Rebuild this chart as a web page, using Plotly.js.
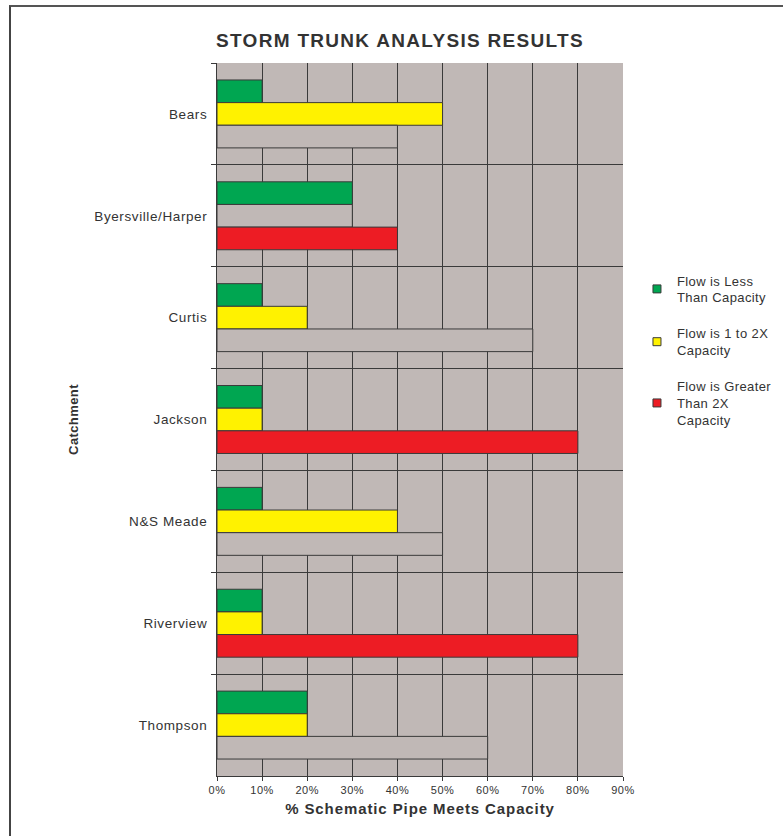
<!DOCTYPE html>
<html>
<head>
<meta charset="utf-8">
<script src="https://cdn.plot.ly/plotly-3.0.1.min.js"></script>
<style>
  html, body { margin: 0; padding: 0; background: #fff; }
  #chart { width: 783px; height: 836px; }
  #frame { position: absolute; left: 9px; top: 5px; width: 790px; height: 840px;
           border-left: 2px solid #444; border-top: 2px solid #555; pointer-events: none; }
  .gtitle { letter-spacing: 1.3px; }
  .xtitle { letter-spacing: 0.9px; }
  .ytitle { letter-spacing: 0.4px; }
  .ytick text { letter-spacing: 0.6px; }
  .xtick text { letter-spacing: 0.5px; }
  .legendtext { letter-spacing: 0.4px; }
</style>
</head>
<body>
<div id="chart"></div>
<div id="frame"></div>
<script>
const categories = ["Bears", "Byersville/Harper", "Curtis", "Jackson", "N&S Meade", "Riverview", "Thompson"];
const lessThanCapacity = [0.10, 0.30, 0.10, 0.10, 0.10, 0.10, 0.20];
const oneToTwoCapacity = [0.50, 0.30, 0.20, 0.10, 0.40, 0.10, 0.20];
const greaterThanTwo   = [0.40, 0.40, 0.70, 0.80, 0.50, 0.80, 0.60];
// points drawn without fill in the reference
const greenUnfilled  = [false, false, false, false, false, false, false];
const yellowUnfilled = [false, true, false, false, false, false, false];
const redUnfilled    = [true, false, true, false, true, false, true];
const seriesNames = ["Flow is Less<br>Than Capacity", "Flow is 1 to 2X<br>Capacity", "Flow is Greater<br>Than 2X<br>Capacity"];
const seriesColors = ["#00a651", "#fff200", "#ed1c24"];

const BG = "#c0b8b6";
const LINE = "#3a3a3a";

const values = [lessThanCapacity, oneToTwoCapacity, greaterThanTwo];
const unfilled = [greenUnfilled, yellowUnfilled, redUnfilled];

const traces = [];
values.forEach((vals, i) => {
  traces.push({
    type: "bar", orientation: "h", name: seriesNames[i], x: vals, y: categories,
    legendgroup: "g" + i, showlegend: false,
    marker: { color: unfilled[i].map(u => u ? BG : seriesColors[i]), line: { color: LINE, width: 1 } }
  });
});
// legend entries (series colour swatches)
values.forEach((vals, i) => {
  traces.push({
    type: "scatter", mode: "markers", name: seriesNames[i], x: [null], y: [null],
    legendgroup: "g" + i, showlegend: true,
    marker: { symbol: "square", size: 8, color: seriesColors[i], line: { color: LINE, width: 1 } }
  });
});

const layout = {
  width: 783, height: 836,
  margin: { l: 217, r: 0, t: 63, b: 60 },
  paper_bgcolor: "#ffffff",
  plot_bgcolor: BG,
  font: { family: "Liberation Sans, Arial, sans-serif", color: "#333", size: 11 },
  title: { text: "<b>STORM TRUNK ANALYSIS RESULTS</b>", x: 400, xref: "container", xanchor: "center",
           y: 0.952, yanchor: "middle", font: { size: 19, color: "#333" } },
  barmode: "group", bargap: 0.333, bargroupgap: 0,
  xaxis: {
    domain: [0, 406 / 566],
    range: [0, 0.9], dtick: 0.1, tick0: 0, tickformat: ".0%",
    showgrid: true, gridcolor: LINE, gridwidth: 1,
    zeroline: false, showline: true, linecolor: LINE, linewidth: 1, mirror: false,
    ticks: "outside", ticklen: 4, tickcolor: LINE,
    tickfont: { size: 11, color: "#333" },
    title: { text: "<b>% Schematic Pipe Meets Capacity</b>", font: { size: 15, color: "#333" }, standoff: 8 }
  },
  yaxis: {
    type: "category", autorange: "reversed", tickson: "boundaries",
    showgrid: true, gridcolor: LINE, gridwidth: 1,
    showline: true, linecolor: LINE, linewidth: 1,
    ticks: "outside", ticklen: 5, tickcolor: LINE, ticklabelstandoff: 6,
    tickfont: { size: 13.5, color: "#333" },
    title: { text: "<b>Catchment</b>", font: { size: 13, color: "#333" }, standoff: 12 }
  },
  legend: {
    x: 0.742, xanchor: "left", y: 0.716, yanchor: "top",
    traceorder: "grouped", tracegroupgap: 16,
    font: { size: 13, color: "#333" }, bgcolor: "rgba(0,0,0,0)"
  },
  showlegend: true
};
// title x in container pixels -> fraction
layout.title.x = 400 / 783;

Plotly.newPlot("chart", traces, layout, { displayModeBar: false, staticPlot: true });
</script>
</body>
</html>
